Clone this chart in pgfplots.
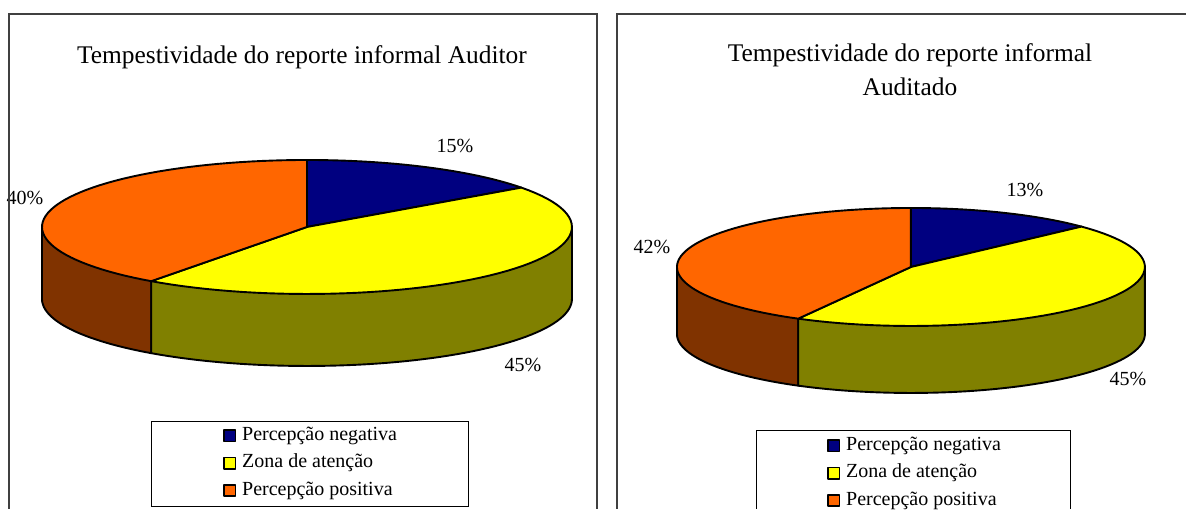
\documentclass[border=0pt]{standalone}
\usepackage{pgfplots}
\pgfplotsset{compat=1.18}
\usepackage{pgfplotstable}
\usepackage{fontspec}
\setmainfont{Liberation Serif}
\definecolor{cneg}{RGB}{0,0,128}
\definecolor{czona}{RGB}{255,255,0}
\definecolor{cpos}{RGB}{255,102,0}
\definecolor{czonaside}{RGB}{128,128,0}
\definecolor{cposside}{RGB}{128,51,0}

\pgfplotstableread{
cat value
neg 15
zona 45
pos 40
}\tabAuditor
\pgfplotstableread{
cat value
neg 13
zona 45
pos 42
}\tabAuditado

\newcommand{\getvals}[1]{%
  \pgfplotstablegetelem{0}{value}\of#1\edef\vA{\pgfplotsretval}%
  \pgfplotstablegetelem{1}{value}\of#1\edef\vB{\pgfplotsretval}}
\newcommand{\pieprep}[5]{%
  \def\cx{#1}\def\cy{#2}\def\rx{#3}\def\ry{#4}\def\dd{#5}%
  \pgfmathsetmacro\aOne{90-3.6*\vA}%
  \pgfmathsetmacro\aTwo{\aOne-3.6*\vB}%
  \pgfmathsetmacro\xTwo{\cx+\rx*cos(\aTwo)}%
  \pgfmathsetmacro\yTwo{\cy-\ry*sin(\aTwo)}%
  \pgfmathsetmacro\xL{\cx-\rx}%
  \pgfmathsetmacro\xR{\cx+\rx}}
\newcommand\lf{\fontsize{10}{12}\selectfont}
\newcommand\tf{\fontsize{12.7}{15}\selectfont}

\pgfplotsset{
  pieaxis/.style={x=0.5pt, y=0.5pt, ymin=0, ymax=509, y dir=reverse,
    axis lines=none, clip=false, scale only axis, anchor=south west,
    legend cell align=left,
    legend style={draw=none, fill=none, inner sep=0pt, row sep=2.2pt, font=\lf,
      nodes={inner ysep=1pt, inner xsep=3pt, text height=7pt, text depth=2.5pt}}},
  pieline/.style={draw=black, line width=0.95pt, line join=round, mark=none, samples=60, variable=\t},
}

\begin{document}
\begin{tikzpicture}
% ---------- left panel ----------
\getvals\tabAuditor
\pieprep{307}{227}{265}{67}{72}
\begin{axis}[pieaxis, xmin=0, xmax=607, at={(0pt,0pt)},
  legend style={at={(axis cs:223,424)}, anchor=north west},
  legend image code/.code={\draw[#1, line width=0.8pt] (0pt,-2.8pt) rectangle (5.6pt,2.8pt);}]
\path (axis cs:0,0) -- (axis cs:607,509);
\addplot[pieline, forget plot, fill=cposside, domain=-180:\aTwo]
  ({\cx+\rx*cos(\t)},{\cy+\dd-\ry*sin(\t)}) -- (axis cs:\xTwo,\yTwo) -- (axis cs:\xL,\cy) -- cycle;
\addplot[pieline, forget plot, fill=czonaside, domain=\aTwo:0]
  ({\cx+\rx*cos(\t)},{\cy+\dd-\ry*sin(\t)}) -- (axis cs:\xR,\cy) -- (axis cs:\xTwo,\yTwo) -- cycle;
\addplot[pieline, fill=cneg, domain=\aOne:90]
  ({\cx+\rx*cos(\t)},{\cy-\ry*sin(\t)}) -- (axis cs:\cx,\cy) -- cycle;
\addlegendentry{Percepção negativa}
\addplot[pieline, fill=czona, domain=\aTwo:\aOne]
  ({\cx+\rx*cos(\t)},{\cy-\ry*sin(\t)}) -- (axis cs:\cx,\cy) -- cycle;
\addlegendentry{Zona de atenção}
\addplot[pieline, fill=cpos, domain=-270:\aTwo]
  ({\cx+\rx*cos(\t)},{\cy-\ry*sin(\t)}) -- (axis cs:\cx,\cy) -- cycle;
\addlegendentry{Percepção positiva}
\node[font=\tf] at (axis cs:302,57) {Tempestividade do reporte informal Auditor};
\node[font=\lf] at (axis cs:455,146) {15\%};
\node[font=\lf] at (axis cs:25,198) {40\%};
\node[font=\lf] at (axis cs:523,365) {45\%};
\draw[line width=0.5pt] (axis cs:152,422) rectangle (axis cs:469,507);
\draw[black!75, line width=0.6pt] (axis cs:9,509) -- (axis cs:9,14) -- (axis cs:597,14) -- (axis cs:597,509);
\end{axis}
% ---------- right panel ----------
\getvals\tabAuditado
\pieprep{911}{267}{234}{59}{67}
\begin{axis}[pieaxis, xmin=607, xmax=1187, at={(303.5pt,0pt)},
  legend style={at={(axis cs:827,434)}, anchor=north west},
  legend image code/.code={\draw[#1, line width=0.8pt] (0pt,-2.8pt) rectangle (5.6pt,2.8pt);}]
\path (axis cs:607,0) -- (axis cs:1187,509);
\addplot[pieline, forget plot, fill=cposside, domain=-180:\aTwo]
  ({\cx+\rx*cos(\t)},{\cy+\dd-\ry*sin(\t)}) -- (axis cs:\xTwo,\yTwo) -- (axis cs:\xL,\cy) -- cycle;
\addplot[pieline, forget plot, fill=czonaside, domain=\aTwo:0]
  ({\cx+\rx*cos(\t)},{\cy+\dd-\ry*sin(\t)}) -- (axis cs:\xR,\cy) -- (axis cs:\xTwo,\yTwo) -- cycle;
\addplot[pieline, fill=cneg, domain=\aOne:90]
  ({\cx+\rx*cos(\t)},{\cy-\ry*sin(\t)}) -- (axis cs:\cx,\cy) -- cycle;
\addlegendentry{Percepção negativa}
\addplot[pieline, fill=czona, domain=\aTwo:\aOne]
  ({\cx+\rx*cos(\t)},{\cy-\ry*sin(\t)}) -- (axis cs:\cx,\cy) -- cycle;
\addlegendentry{Zona de atenção}
\addplot[pieline, fill=cpos, domain=-270:\aTwo]
  ({\cx+\rx*cos(\t)},{\cy-\ry*sin(\t)}) -- (axis cs:\cx,\cy) -- cycle;
\addlegendentry{Percepção positiva}
\node[font=\tf] at (axis cs:910,55) {Tempestividade do reporte informal};
\node[font=\tf] at (axis cs:910,87) {Auditado};
\node[font=\lf] at (axis cs:1025,190) {13\%};
\node[font=\lf] at (axis cs:652,247) {42\%};
\node[font=\lf] at (axis cs:1128,379) {45\%};
\draw[line width=0.5pt] (axis cs:757,509) -- (axis cs:757,431) -- (axis cs:1071,431) -- (axis cs:1071,509);
\draw[black!75, line width=0.6pt] (axis cs:617,509) -- (axis cs:617,14) -- (axis cs:1186.5,14);
\end{axis}
\end{tikzpicture}
\end{document}
